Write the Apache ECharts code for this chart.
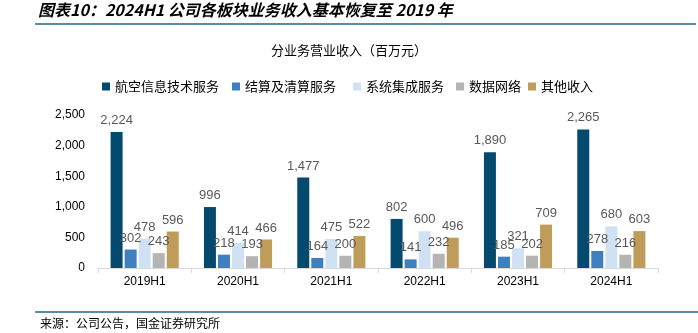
<!DOCTYPE html>
<html><head><meta charset="utf-8">
<script src="https://cdn.jsdelivr.net/npm/echarts@6/dist/echarts.min.js"></script>
<style>html,body{margin:0;padding:0;background:#fff}#c{width:698px;height:333px}</style>
</head><body><div id="c"></div>
<script>
const categories = ['2019H1','2020H1','2021H1','2022H1','2023H1','2024H1'];
const seriesNames = ['航空信息技术服务','结算及清算服务','系统集成服务','数据网络','其他收入'];
const aviation = [2224, 996, 1477, 802, 1890, 2265];
const settlement = [302, 218, 164, 141, 185, 278];
const integration = [478, 414, 475, 600, 321, 680];
const network = [243, 193, 200, 232, 202, 216];
const other = [596, 466, 522, 496, 709, 603];
const yTicks = [0, 500, 1000, 1500, 2000, 2500];

const colors = ['#044a6e','#3f7ebf','#cfe1f3','#b4b4b4','#bf9c5a'];
const allData = [aviation, settlement, integration, network, other];
const font = '"Liberation Sans", Arial, sans-serif';
const cjk = '"Noto Sans CJK SC", sans-serif';
const legendLeft = [97, 227, 348, 451, 523];

const chart = echarts.init(document.getElementById('c'));
chart.setOption({
  animation: false,
  color: colors,
  title: {
    text: '分业务营业收入（百万元）', left: 'center', top: 39,
    textStyle: {fontFamily: cjk, fontSize: 13, fontWeight: 'normal', color: '#000'}
  },
  legend: seriesNames.map((n, i) => ({
    data: [n], left: legendLeft[i], top: 75, itemWidth: 8, itemHeight: 8, itemGap: 5,
    icon: 'rect', textStyle: {fontFamily: cjk, fontSize: 13, color: '#000'}
  })),
  grid: {left: 98, right: 40, top: 115, bottom: 65},
  xAxis: {
    type: 'category', data: categories,
    axisLine: {lineStyle: {color: '#d9d9d9'}},
    axisTick: {show: true, lineStyle: {color: '#d9d9d9'}},
    axisLabel: {color: '#000', fontFamily: font, fontSize: 12, margin: 8}
  },
  yAxis: {
    type: 'value', min: yTicks[0], max: yTicks[yTicks.length-1], interval: 500,
    splitLine: {show: false}, axisLine: {show: false}, axisTick: {show: false},
    axisLabel: {color: '#000', fontFamily: font, fontSize: 12, margin: 13,
      formatter: v => v.toLocaleString('en-US')}
  },
  series: seriesNames.map((n, i) => ({
    name: n, type: 'bar', data: allData[i],
    barGap: '17%', barCategoryGap: '27%',
    label: {show: true, position: 'top', distance: 5, color: '#595959', fontFamily: font, fontSize: 13,
      formatter: p => p.value.toLocaleString('en-US')}
  })),
  graphic: [
    {type: 'text', left: 38, top: 2, style: {text: '图表10：2024H1 公司各板块业务收入基本恢复至 2019 年',
      font: 'italic bold 16px "Noto Sans CJK SC", sans-serif', fill: '#000'}},
    {type: 'rect', shape: {x: 35, y: 23, width: 661, height: 2}, style: {fill: '#5b8ba1'}},
    {type: 'rect', shape: {x: 35, y: 311, width: 663, height: 2}, style: {fill: '#5b8ba1'}},
    {type: 'text', left: 40, top: 317, style: {text: '来源：公司公告，国金证券研究所',
      font: '12px "Noto Sans CJK SC", sans-serif', fill: '#000'}}
  ]
});
</script></body></html>
